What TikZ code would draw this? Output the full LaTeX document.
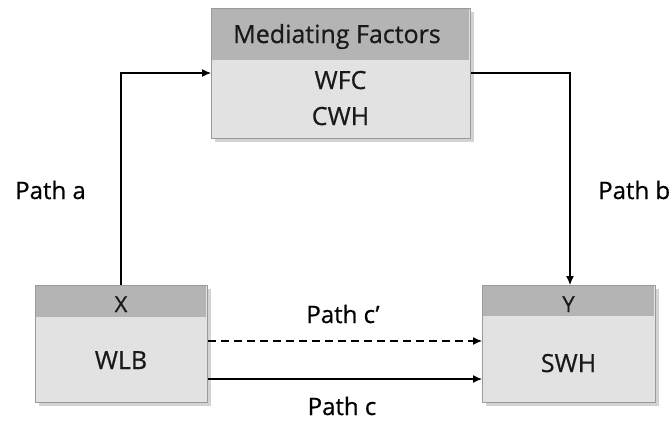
\documentclass[tikz,border=0pt]{standalone}
\usepackage{fontspec}
\setmainfont{Open Sans}[FakeBold=0.6]
\usetikzlibrary{shadows,arrows.meta}
\definecolor{hdr}{HTML}{B4B4B4}
\definecolor{bdy}{HTML}{E2E2E2}
\definecolor{brd}{HTML}{9A9A9A}
\begin{document}
\begin{tikzpicture}[x=1pt,y=-1pt,
  boxbody/.style={draw=brd, line width=1pt, fill=bdy, drop shadow={shadow xshift=3pt, shadow yshift=-3pt, opacity=0.35}},
  boxtext/.style={font=\fontsize{25}{36}\selectfont, text=black!90, anchor=base, inner sep=0pt},
  hdrtext/.style={font=\fontsize{22}{26}\selectfont, text=black!90, anchor=base, inner sep=0pt},
  pathlbl/.style={font=\fontsize{24}{28}\selectfont, text=black, anchor=base, inner sep=0pt},
  conn/.style={line width=1.2pt, -{Latex[length=9pt,width=8pt]}}
]
\useasboundingbox (0,0) rectangle (672,421);
% Mediating box
\node[boxbody, minimum width=259pt, minimum height=130pt, anchor=north west, inner sep=0pt] (m) at (211,8) {};
\fill[hdr] (212,9) rectangle (469,60);
\node[boxtext] (mh) at (337,43) {Mediating Factors};
\node[boxtext] (mt1) at (340.5,89) {WFC};
\node[boxtext] (mt2) at (340.5,125) {CWH};
% X box
\node[boxbody, minimum width=172pt, minimum height=117pt, anchor=north west, inner sep=0pt] (x) at (35,285) {};
\fill[hdr] (36,286) rectangle (206,317);
\node[hdrtext] (xh) at (121,312) {X};
\node[boxtext] (xt) at (121,369) {WLB};
% Y box
\node[boxbody, minimum width=173pt, minimum height=117pt, anchor=north west, inner sep=0pt] (y) at (482,285) {};
\fill[hdr] (483,286) rectangle (654,316);
\node[hdrtext] (yh) at (568.5,312) {Y};
\node[boxtext] (yt) at (568.5,372) {SWH};
% connectors
\coordinate (ca) at (121,73);
\coordinate (cb) at (570,73);
\draw[conn] (x.north -| ca) -- (ca) -- (ca -| m.west);
\draw[conn] (cb -| m.east) -- (cb) -- (cb |- y.north);
\draw[conn, dash pattern=on 8pt off 5pt] (x.east |- 0,341) -- (y.west |- 0,341);
\draw[conn] (x.east |- 0,379) -- (y.west |- 0,379);
% labels
\node[pathlbl, anchor=base west] (la) at (15,199) {Path a};
\node[pathlbl, anchor=base west] (lb) at (598,199) {Path b};
\node[pathlbl] (lc1) at (343,323) {Path c’};
\node[pathlbl] (lc) at (342,415) {Path c};
\end{tikzpicture}
\end{document}
